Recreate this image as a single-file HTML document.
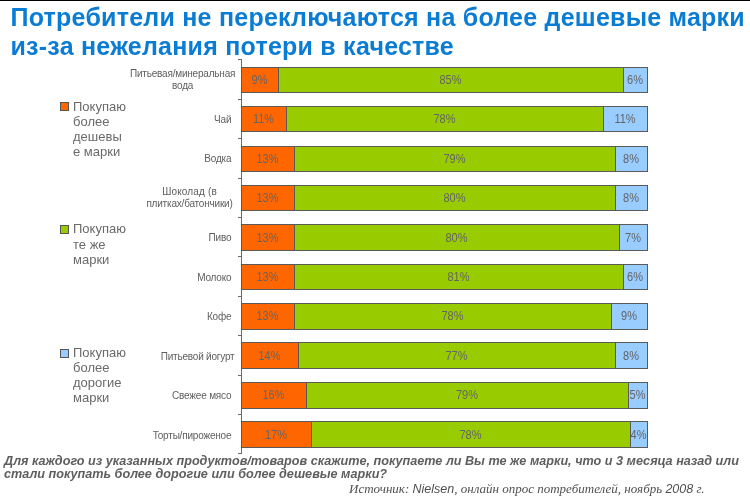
<!DOCTYPE html>
<html><head><meta charset="utf-8">
<style>
html,body{margin:0;padding:0;background:#fff;}
body{width:750px;height:500px;position:relative;overflow:hidden;font-family:"Liberation Sans",sans-serif;}
.topline{position:absolute;left:0;top:0;width:750px;height:1px;background:#000;}
.title{position:absolute;left:10.5px;top:3px;font-weight:bold;font-size:25px;letter-spacing:0.24px;line-height:29px;color:#0a7cd4;white-space:nowrap;}
.ax{position:absolute;left:241px;width:1px;background:#6a6a6a;}
.tk{position:absolute;left:238px;width:4px;height:1px;background:#6a6a6a;}
.seg{position:absolute;box-sizing:border-box;border:1px solid #5a5a5a;display:flex;justify-content:center;font-size:11px;line-height:12px;color:#646464;white-space:nowrap;padding-right:1px;}
.seg span{position:relative;display:inline-block;height:12px;transform:scaleY(1.12);}
.lab{position:absolute;font-size:10px;line-height:12px;letter-spacing:-0.2px;color:#5e5e5e;white-space:nowrap;text-align:right;}
.labc{position:absolute;width:140px;font-size:10px;line-height:12px;letter-spacing:-0.2px;color:#5e5e5e;white-space:nowrap;text-align:center;}
.leg{position:absolute;left:0;font-size:13px;line-height:15.2px;color:#6a6a6a;}
.leg i{position:absolute;left:60px;width:9px;height:9px;box-sizing:border-box;border:1px solid #555;}
.leg div{position:absolute;left:73px;top:0;white-space:nowrap;}
.q{position:absolute;left:4px;top:455px;font-weight:bold;font-style:italic;font-size:12.65px;line-height:13px;color:#5e5e5e;white-space:nowrap;}
.src{position:absolute;left:349px;top:481px;font-family:"Liberation Serif",serif;font-style:italic;font-size:13px;color:#505050;white-space:nowrap;}
.src b{font-weight:normal;font-family:"Liberation Sans",sans-serif;font-size:12.5px;}
#wrap{position:absolute;left:0;top:0;width:750px;height:500px;will-change:transform;}
</style></head><body><div id="wrap">
<div class="topline"></div>
<div class="title">Потребители не переключаются на более дешевые марки<br>из-за нежелания потери в качестве</div>
<div class="ax" style="top:59px;height:395px"></div>
<div class="tk" style="top:59px"></div>
<div class="tk" style="top:99px"></div>
<div class="tk" style="top:138px"></div>
<div class="tk" style="top:178px"></div>
<div class="tk" style="top:217px"></div>
<div class="tk" style="top:256px"></div>
<div class="tk" style="top:296px"></div>
<div class="tk" style="top:335px"></div>
<div class="tk" style="top:375px"></div>
<div class="tk" style="top:414px"></div>
<div class="tk" style="top:453px"></div>
<div class="seg" style="left:241px;top:67px;width:38px;height:26px;background:#ff6600"><span style="top:5.60px">9%</span></div>
<div class="seg" style="left:278px;top:67px;width:346px;height:26px;background:#99cc00"><span style="top:5.60px">85%</span></div>
<div class="seg" style="left:623px;top:67px;width:25px;height:26px;background:#99ccff"><span style="top:5.60px">6%</span></div>
<div class="labc" style="top:68.4px;left:112.6px">Питьевая/минеральная<br>вода</div>
<div class="seg" style="left:241px;top:106px;width:46px;height:26px;background:#ff6600"><span style="top:6.08px">11%</span></div>
<div class="seg" style="left:286px;top:106px;width:318px;height:26px;background:#99cc00"><span style="top:6.08px">78%</span></div>
<div class="seg" style="left:603px;top:106px;width:45px;height:26px;background:#99ccff"><span style="top:6.08px">11%</span></div>
<div class="lab" style="top:113.9px;right:518.7px">Чай</div>
<div class="seg" style="left:241px;top:146px;width:54px;height:26px;background:#ff6600"><span style="top:5.56px">13%</span></div>
<div class="seg" style="left:294px;top:146px;width:322px;height:26px;background:#99cc00"><span style="top:5.56px">79%</span></div>
<div class="seg" style="left:615px;top:146px;width:33px;height:26px;background:#99ccff"><span style="top:5.56px">8%</span></div>
<div class="lab" style="top:153.4px;right:518.7px">Водка</div>
<div class="seg" style="left:241px;top:185px;width:54px;height:26px;background:#ff6600"><span style="top:6.04px">13%</span></div>
<div class="seg" style="left:294px;top:185px;width:322px;height:26px;background:#99cc00"><span style="top:6.04px">80%</span></div>
<div class="seg" style="left:615px;top:185px;width:33px;height:26px;background:#99ccff"><span style="top:6.04px">8%</span></div>
<div class="labc" style="top:185.5px;left:119.5px"><span style="letter-spacing:0.15px">Шоколад (в</span><br>плитках/батончики)</div>
<div class="seg" style="left:241px;top:224px;width:54px;height:27px;background:#ff6600"><span style="top:6.52px">13%</span></div>
<div class="seg" style="left:294px;top:224px;width:326px;height:27px;background:#99cc00"><span style="top:6.52px">80%</span></div>
<div class="seg" style="left:619px;top:224px;width:29px;height:27px;background:#99ccff"><span style="top:6.52px">7%</span></div>
<div class="lab" style="top:232.3px;right:518.7px">Пиво</div>
<div class="seg" style="left:241px;top:264px;width:54px;height:26px;background:#ff6600"><span style="top:6.00px">13%</span></div>
<div class="seg" style="left:294px;top:264px;width:330px;height:26px;background:#99cc00"><span style="top:6.00px">81%</span></div>
<div class="seg" style="left:623px;top:264px;width:25px;height:26px;background:#99ccff"><span style="top:6.00px">6%</span></div>
<div class="lab" style="top:271.8px;right:518.7px">Молоко</div>
<div class="seg" style="left:241px;top:303px;width:54px;height:27px;background:#ff6600"><span style="top:6.48px">13%</span></div>
<div class="seg" style="left:294px;top:303px;width:318px;height:27px;background:#99cc00"><span style="top:6.48px">78%</span></div>
<div class="seg" style="left:611px;top:303px;width:37px;height:27px;background:#99ccff"><span style="top:6.48px">9%</span></div>
<div class="lab" style="top:311.3px;right:518.7px">Кофе</div>
<div class="seg" style="left:241px;top:342px;width:58px;height:27px;background:#ff6600"><span style="top:6.96px">14%</span></div>
<div class="seg" style="left:298px;top:342px;width:318px;height:27px;background:#99cc00"><span style="top:6.96px">77%</span></div>
<div class="seg" style="left:615px;top:342px;width:33px;height:27px;background:#99ccff"><span style="top:6.96px">8%</span></div>
<div class="lab" style="top:350.8px;right:515.5px">Питьевой йогурт</div>
<div class="seg" style="left:241px;top:382px;width:66px;height:27px;background:#ff6600"><span style="top:6.44px">16%</span></div>
<div class="seg" style="left:306px;top:382px;width:323px;height:27px;background:#99cc00"><span style="top:6.44px">79%</span></div>
<div class="seg" style="left:628px;top:382px;width:20px;height:27px;background:#99ccff"><span style="top:6.44px">5%</span></div>
<div class="lab" style="top:390.2px;right:518.7px">Свежее мясо</div>
<div class="seg" style="left:241px;top:421px;width:71px;height:27px;background:#ff6600"><span style="top:6.92px">17%</span></div>
<div class="seg" style="left:311px;top:421px;width:320px;height:27px;background:#99cc00"><span style="top:6.92px">78%</span></div>
<div class="seg" style="left:630px;top:421px;width:18px;height:27px;background:#99ccff"><span style="top:6.92px">4%</span></div>
<div class="lab" style="top:429.7px;right:518.7px">Торты/пироженое</div>
<div class="leg" style="top:98.5px"><i style="top:3.3px;background:#ff6600"></i><div>Покупаю<br>более<br>дешевы<br>е марки</div></div>
<div class="leg" style="top:220.9px;line-height:15.7px"><i style="top:3.9px;background:#99cc00"></i><div>Покупаю<br>те же<br>марки</div></div>
<div class="leg" style="top:345.4px;line-height:15px"><i style="top:3.5px;background:#99ccff"></i><div>Покупаю<br>более<br>дорогие<br>марки</div></div>
<div class="q">Для каждого из указанных продуктов/товаров скажите, покупаете ли Вы те же марки, что и 3 месяца назад или<br>стали покупать более дорогие или более дешевые марки?</div>
<div class="src">Источник: <b>Nielsen</b>, онлайн опрос потребителей, ноябрь <b>2008</b> г.</div>
</div></body></html>
